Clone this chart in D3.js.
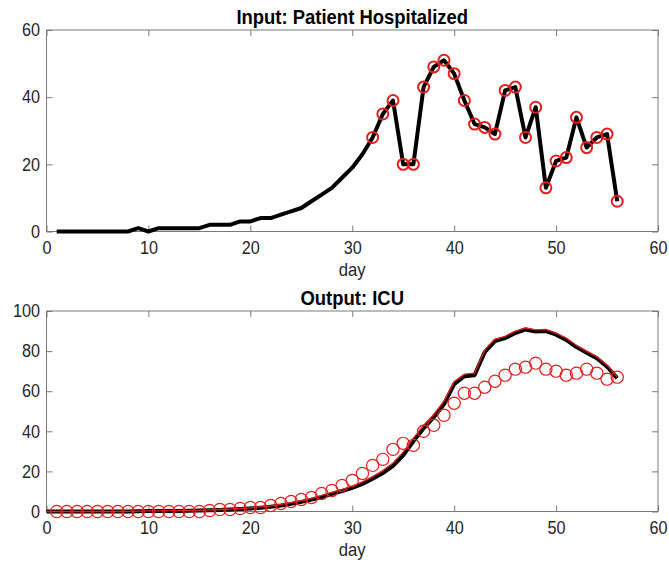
<!DOCTYPE html>
<html>
<head>
<meta charset="utf-8">
<script src="https://cdn.jsdelivr.net/npm/d3@7"></script>
<style>
  html, body { margin: 0; padding: 0; background: #fff; }
  svg { display: block; }
  text { font-family: "Liberation Sans", Arial, Helvetica, sans-serif; }
</style>
</head>
<body>
<svg id="chart" width="669" height="563"></svg>
<script>
// Hospital admissions per day (input signal)
const inputDays = d3.range(1, 57);
const inputValues = [
  0, 0, 0, 0, 0, 0, 0, 0, 1, 0,
  1, 1, 1, 1, 1, 2, 2, 2, 3, 3,
  4, 4, 5, 6, 7, 9, 11, 13, 16, 19,
  23, 28, 35, 39, 20, 20, 43, 49, 51, 47,
  39, 32, 31, 29, 42, 43, 28, 37, 13, 21,
  22, 34, 25, 28, 29, 9
];
// Days whose admissions are marked with circles
const markedDays = d3.range(32, 57);

// ICU occupancy: observed counts (circles), days 1..56
const icuDays = d3.range(1, 57);
const icuObserved = [
  0, 0, 0, 0, 0, 0, 0, 0, 0, 0,
  0, 0, 0, 0, 0, 0.5, 1, 1, 1.5, 2,
  2, 3, 4, 5, 6, 7, 9, 10.5, 13, 15.5,
  19, 23, 26, 31, 34, 33, 40, 43, 48, 54,
  59, 59, 62, 65, 68, 71, 72, 74, 71, 70,
  68, 69, 71, 69, 66, 67
];
// ICU occupancy: model outputs, days 0..56
const fitDays = d3.range(0, 57);
const fitBlack = [
  0, 0, 0, 0, 0, 0, 0, 0, 0, 0.1,
  0.2, 0.2, 0.3, 0.3, 0.4, 0.5, 0.6, 0.8, 1.0, 1.2,
  1.5, 1.9, 2.4, 3.0, 3.8, 4.8, 5.9, 7.2, 8.8, 10.2,
  11.8, 13.8, 16.3, 19.2, 22.8, 28.0, 35.0, 41.5, 47.0, 53.5,
  63.5, 67.5, 68.0, 79.5, 85.0, 86.5, 89.0, 90.8, 89.8, 90.0,
  88.2, 85.6, 82.0, 79.2, 76.4, 72.2, 66.5
];
const fitRed = [
  0, 0, 0, 0, 0, 0, 0, 0, 0.1, 0.2,
  0.3, 0.3, 0.4, 0.4, 0.5, 0.6, 0.8, 1.0, 1.2, 1.5,
  1.8, 2.3, 2.8, 3.5, 4.4, 5.4, 6.6, 8.0, 9.6, 11.0,
  12.7, 14.8, 17.4, 20.4, 24.2, 29.6, 36.6, 43.0, 48.4, 55.0,
  64.8, 68.5, 69.0, 80.6, 86.0, 87.4, 90.0, 91.6, 90.6, 90.8,
  89.0, 86.4, 82.8, 80.0, 77.2, 73.0, 67.0
];

const xTicks = [0, 10, 20, 30, 40, 50, 60];
const topYTicks = [0, 20, 40, 60];
const bottomYTicks = [0, 20, 40, 60, 80, 100];

const svg = d3.select("#chart");
const RED = "#e3201e";
const AXIS = "#7a7a7a";
const TXT = "#262626";

const left = 46.5, right = 658;

function panel(opts) {
  const g = svg.append("g");
  const x = d3.scaleLinear().domain([0, 60]).range([left, right]);
  const y = d3.scaleLinear().domain(opts.yDomain).range([opts.bottom, opts.top]);
  const tick = 6;

  // box
  g.append("rect")
    .attr("x", left).attr("y", opts.top)
    .attr("width", right - left).attr("height", opts.bottom - opts.top)
    .attr("fill", "none").attr("stroke", AXIS).attr("stroke-width", 1);

  const styleAxis = sel => {
    sel.select(".domain").remove();
    sel.selectAll(".tick line").attr("stroke", AXIS);
    sel.selectAll(".tick text").attr("fill", TXT).style("font-size", "18px");
  };

  g.append("g").attr("transform", `translate(0,${opts.bottom})`)
    .call(d3.axisBottom(x).tickValues(xTicks).tickSize(-tick).tickPadding(10).tickFormat(d3.format("d")))
    .call(styleAxis);
  g.append("g").attr("transform", `translate(0,${opts.top})`)
    .call(d3.axisTop(x).tickValues(xTicks).tickSize(-tick).tickFormat(""))
    .call(styleAxis);
  g.append("g").attr("transform", `translate(${left},0)`)
    .call(d3.axisLeft(y).tickValues(opts.yTicks).tickSize(-tick).tickPadding(6.5).tickFormat(d3.format("d")))
    .call(styleAxis);
  g.append("g").attr("transform", `translate(${right},0)`)
    .call(d3.axisRight(y).tickValues(opts.yTicks).tickSize(-tick).tickFormat(""))
    .call(styleAxis);

  g.append("text")
    .attr("x", (left + right) / 2).attr("y", opts.top - 6.5)
    .attr("text-anchor", "middle").attr("font-weight", "bold")
    .style("font-size", "20.5px").attr("fill", "#000")
    .text(opts.title);
  g.append("text")
    .attr("x", (left + right) / 2).attr("y", opts.bottom + 44)
    .attr("text-anchor", "middle")
    .style("font-size", "18.5px").attr("fill", TXT)
    .text("day");

  return { g, x, y };
}

// Top panel: admissions
const p1 = panel({ top: 30, bottom: 231.5, yDomain: [0, 60], yTicks: topYTicks,
  title: "Input: Patient Hospitalized" });
const line1 = d3.line().x((d, i) => p1.x(inputDays[i])).y(d => p1.y(d));
p1.g.append("path").datum(inputValues)
  .attr("d", line1).attr("fill", "none")
  .attr("stroke", "#000").attr("stroke-width", 4).attr("stroke-linejoin", "round");
p1.g.selectAll("circle.obs").data(markedDays).join("circle")
  .attr("class", "obs")
  .attr("cx", d => p1.x(d))
  .attr("cy", d => p1.y(inputValues[inputDays.indexOf(d)]))
  .attr("r", 5.5).attr("fill", "none").attr("stroke", RED).attr("stroke-width", 2);

// Bottom panel: ICU occupancy
const p2 = panel({ top: 311, bottom: 511.5, yDomain: [0, 100], yTicks: bottomYTicks,
  title: "Output: ICU" });
const line2 = d3.line().x((d, i) => p2.x(fitDays[i])).y(d => p2.y(d));
p2.g.append("path").datum(fitBlack)
  .attr("d", line2).attr("fill", "none")
  .attr("stroke", "#000").attr("stroke-width", 4).attr("stroke-linejoin", "round");
p2.g.append("path").datum(fitRed)
  .attr("d", line2).attr("fill", "none")
  .attr("stroke", RED).attr("stroke-width", 1.3).attr("stroke-linejoin", "round");
p2.g.selectAll("circle.obs").data(icuObserved).join("circle")
  .attr("class", "obs")
  .attr("cx", (d, i) => p2.x(icuDays[i]))
  .attr("cy", d => p2.y(d))
  .attr("r", 6.1).attr("fill", "none").attr("stroke", RED).attr("stroke-width", 1.2);

// Slightly condensed lettering throughout
svg.selectAll("text").each(function () {
  const w = this.getComputedTextLength();
  if (w > 0) {
    d3.select(this).attr("textLength", w * 0.9).attr("lengthAdjust", "spacingAndGlyphs");
  }
});
</script>
</body>
</html>
